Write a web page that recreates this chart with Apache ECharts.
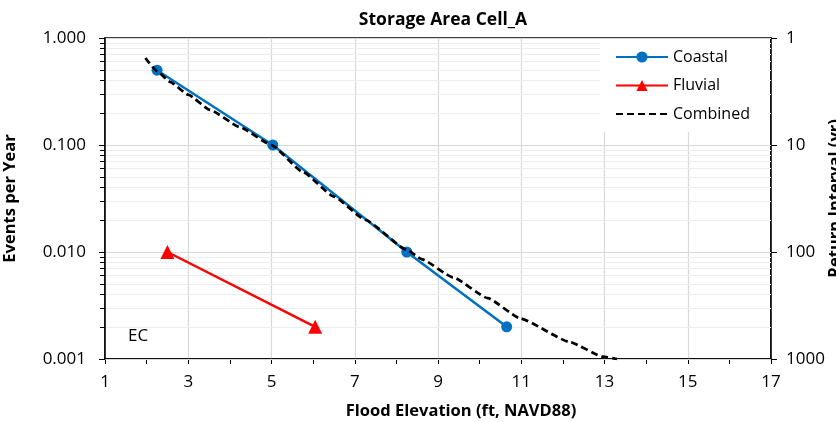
<!DOCTYPE html>
<html>
<head>
<meta charset="utf-8">
<script src="https://cdn.jsdelivr.net/npm/echarts@6/dist/echarts.min.js"></script>
<style>
    html, body { margin: 0; padding: 0; background: #fff; }
    #chart { width: 836px; height: 422px; }
</style>
</head>
<body>
<div id="chart"></div>
<script>
// values
const coastalX = [2.25, 5.03, 8.25, 10.65];
const coastalY = [0.5, 0.1, 0.01, 0.002];
const fluvialX = [2.5, 6.05];
const fluvialY = [0.01, 0.002];
const combinedX = [1.97, 2.25, 2.56, 3.0, 3.52, 4.24, 5.0, 5.75, 6.5, 7.25, 8.25, 8.6, 9.36, 10.2, 10.97, 12.17, 12.96, 13.3];
const combinedY = [0.65, 0.49, 0.39, 0.295, 0.213, 0.147, 0.1, 0.056, 0.033, 0.020, 0.0105, 0.0086, 0.0058, 0.0037, 0.0024, 0.00144, 0.00105, 0.001];
const minorY = [0.002, 0.003, 0.004, 0.005, 0.006, 0.007, 0.008, 0.009,
    0.02, 0.03, 0.04, 0.05, 0.06, 0.07, 0.08, 0.09,
    0.2, 0.3, 0.4, 0.5, 0.6, 0.7, 0.8, 0.9];

const font = '"Open Sans", "Noto Sans", sans-serif';
const pairs = (xs, ys) => xs.map((x, i) => [x, ys[i]]);
const gridBox = { left: 105, right: 65, top: 38, bottom: 63, outerBoundsMode: 'none' };
const nameStyle = { fontFamily: font, fontSize: 16.5, fontWeight: 'bold', color: '#000' };

const chart = echarts.init(document.getElementById('chart'));
chart.setOption({
    animation: false,
    textStyle: { fontFamily: font, color: '#000' },
    title: {
        text: 'Storage Area Cell_A',
        left: 438,
        textAlign: 'center',
        top: 6,
        textStyle: { fontFamily: font, fontSize: 17.5, fontWeight: 'bold', color: '#000' },
    },
    grid: [
        Object.assign({ show: true, borderColor: '#000', borderWidth: 1.5, backgroundColor: 'transparent' }, gridBox),
        Object.assign({ show: false }, gridBox),
    ],
    legend: {
        orient: 'vertical',
        left: 600,
        top: 39,
        padding: [10, 18, 10, 15],
        backgroundColor: '#fff',
        itemWidth: 52,
        itemHeight: 14,
        itemGap: 12.5,
        textStyle: { fontFamily: font, fontSize: 16, color: '#000' },
        data: ['Coastal', 'Fluvial', { name: 'Combined', itemStyle: { opacity: 0 } }],
    },
    graphic: [{
        type: 'text',
        left: 128,
        top: 328,
        style: { text: 'EC', font: '17px ' + font, fill: '#000' },
    }],
    xAxis: [{
        type: 'value',
        gridIndex: 0,
        min: 1, max: 17, interval: 2,
        name: 'Flood Elevation (ft, NAVD88)',
        nameLocation: 'middle',
        nameGap: 44,
        nameTextStyle: Object.assign({ padding: [0, 0, 0, 46] }, nameStyle),
        axisLine: { lineStyle: { color: '#000', width: 1.5 } },
        axisTick: { length: 5, lineStyle: { color: '#000' } },
        minorTick: { show: true, splitNumber: 2, length: 5, lineStyle: { color: '#000' } },
        axisLabel: { fontSize: 17, color: '#000', margin: 15, fontFamily: font },
        splitLine: { show: true, lineStyle: { color: '#d9d9d9', width: 1.2 } },
    }, {
        type: 'value',
        gridIndex: 1,
        min: 1, max: 17,
        show: false,
    }],
    yAxis: [{
        type: 'log', logBase: 10, min: 0.001, max: 1,
        gridIndex: 0,
        position: 'left',
        name: 'Events per Year',
        nameLocation: 'middle',
        nameGap: 86,
        nameTextStyle: nameStyle,
        axisLine: { show: true, lineStyle: { color: '#000', width: 1.5 } },
        axisTick: { length: 6, lineStyle: { color: '#000' } },
        axisLabel: {
            fontSize: 17, color: '#000', margin: 19, fontFamily: font,
            formatter: v => v.toFixed(3),
        },
        splitLine: { show: true, lineStyle: { color: '#d9d9d9', width: 1.2 } },
        z: 2,
    }, {
        type: 'log', logBase: 10, min: 1, max: 1000, inverse: true,
        gridIndex: 0,
        position: 'right',
        name: 'Return Interval (yr)',
        nameLocation: 'middle',
        nameRotate: 90,
        nameGap: 56,
        nameMoveOverlap: false,
        nameTextStyle: nameStyle,
        axisLine: { show: true, lineStyle: { color: '#000', width: 1.5 } },
        axisTick: { length: 6, lineStyle: { color: '#000' } },
        axisLabel: { fontSize: 17, color: '#000', margin: 15, fontFamily: font, formatter: v => String(v) },
        splitLine: { show: false },
    }, {
        type: 'log', logBase: 10, min: 0.001, max: 1,
        gridIndex: 1,
        position: 'left',
        axisLine: { show: false },
        axisTick: { show: true, length: 5, customValues: minorY, lineStyle: { color: '#000' } },
        axisLabel: { show: false },
        splitLine: { show: true, lineStyle: { color: '#ededed', width: 1 } },
        z: 1,
    }],
    series: [{
        name: 'Coastal',
        type: 'line',
        data: pairs(coastalX, coastalY),
        symbol: 'circle',
        symbolSize: 11,
        itemStyle: { color: '#0070c0' },
        lineStyle: { color: '#0070c0', width: 2.5 },
        z: 3,
    }, {
        name: 'Fluvial',
        type: 'line',
        data: pairs(fluvialX, fluvialY),
        symbol: 'triangle',
        symbolSize: 14,
        itemStyle: { color: '#ff0000' },
        lineStyle: { color: '#ff0000', width: 2.5 },
        z: 3,
    }, {
        name: 'Combined',
        type: 'line',
        data: pairs(combinedX, combinedY),
        showSymbol: false,
        smooth: 0.15,
        smoothMonotone: 'x',
        itemStyle: { color: '#000' },
        lineStyle: { color: '#000', width: 2.75, type: [7, 4] },
        z: 4,
    }],
});
</script>
</body>
</html>
